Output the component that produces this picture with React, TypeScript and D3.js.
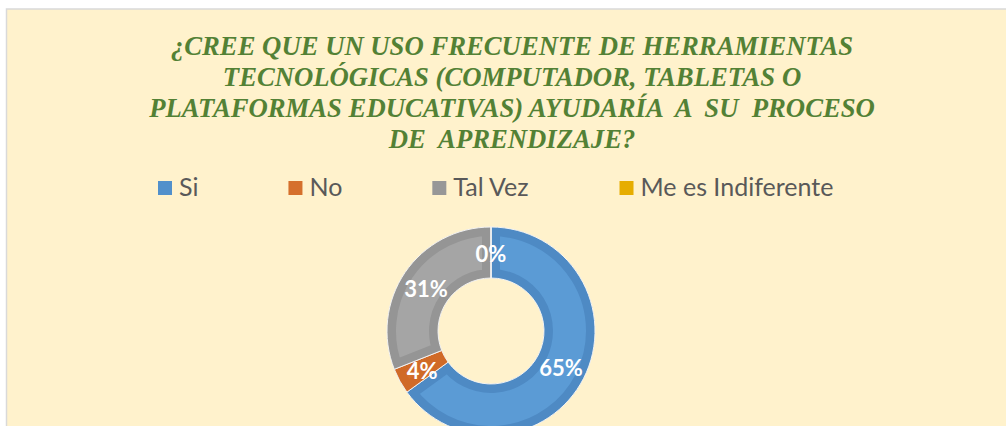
import React, { useMemo } from 'react';
import * as d3 from 'd3';

const categories = ['Si', 'No', 'Tal Vez', 'Me es Indiferente'];
const percents = [65, 4, 31, 0];
const fills = ['#5B9BD5', '#D5702C', '#A5A5A5', '#E6AD00'];
const edges = ['#4E8AC4', '#D06A27', '#959595', '#D9A000'];
const legendSwatch = ['#5190CB', '#D5702C', '#979797', '#E6AD00'];

const titleLines = [
  '¿CREE QUE UN USO FRECUENTE DE HERRAMIENTAS',
  'TECNOLÓGICAS (COMPUTADOR, TABLETAS O',
  'PLATAFORMAS EDUCATIVAS) AYUDARÍA  A  SU  PROCESO',
  'DE  APRENDIZAJE?',
];

const W = 1006;
const H = 426;
const cx = 491;
const cy = 331;
const outerR = 104;
const innerR = 53;
const band = 9;

const legendFont = '25px Lato';

function measure(text: string, font: string) {
  const ctx = document.createElement('canvas').getContext('2d');
  if (!ctx) return text.length * 12;
  ctx.font = font;
  return ctx.measureText(text).width;
}

export default function App() {
  const pie = d3.pie<number>().sort(null).value((d) => d);
  const arcs = pie(percents);
  const arc = d3.arc<d3.PieArcDatum<number>>().innerRadius(innerR).outerRadius(outerR);
  const labelArc = d3.arc<d3.PieArcDatum<number>>()
    .innerRadius((innerR + outerR) / 2)
    .outerRadius((innerR + outerR) / 2);

  // legend: square, small gap, text, then a wide gap to the next entry
  const legend = useMemo(() => {
    let x = 158;
    return categories.map((c) => {
      const w = measure(c, legendFont);
      const item = { x, w };
      x += 14 + 7 + w + 90;
      return item;
    });
  }, []);

  const titleY = d3.scaleLinear().domain([0, 3]).range([55, 148]);

  return (
    <svg width={W} height={H} style={{ position: 'absolute', left: 0, top: 0 }}>
      <rect x={0} y={0} width={W} height={H} fill="#ffffff" />
      <rect x={6.5} y={9} width={W + 10} height={H + 10} fill="#FFF2CC" stroke="#D9D9D9" strokeWidth={1.5} />

      {titleLines.map((t, i) => (
        <text
          key={i}
          x={512}
          y={titleY(i)}
          textAnchor="middle"
          fill="#538135"
          fontFamily="'Liberation Serif', 'Times New Roman', serif"
          fontWeight="bold"
          fontStyle="italic"
          fontSize={26.7}
          style={{ whiteSpace: 'pre' }}
        >
          {t}
        </text>
      ))}

      {categories.map((c, i) => (
        <g key={c} transform={`translate(${legend[i].x},0)`}>
          <rect x={0} y={181} width={14} height={14} fill={legendSwatch[i]} />
          <text x={21} y={196} fill="#595959" fontFamily="Lato, 'Open Sans', sans-serif" fontSize={25}>
            {c}
          </text>
        </g>
      ))}

      <defs>
        {arcs.map((a, i) => (
          <clipPath key={i} id={`clip-${i}`}>
            <path d={arc(a) || ''} />
          </clipPath>
        ))}
      </defs>

      <g transform={`translate(${cx},${cy})`}>
        {arcs.map((a, i) => (
          <g key={i}>
            <path
              d={arc(a) || ''}
              fill={fills[i]}
              stroke={edges[i]}
              strokeWidth={band * 2}
              clipPath={`url(#clip-${i})`}
            />
            <path d={arc(a) || ''} fill="none" stroke="#F2F2F2" strokeWidth={1} />
          </g>
        ))}
        {arcs.map((a, i) => {
          const [lx, ly] = labelArc.centroid(a);
          return (
            <text
              key={`l-${i}`}
              x={lx}
              y={ly + 2}
              dy="0.35em"
              textAnchor="middle"
              fill="#ffffff"
              fontFamily="Lato, sans-serif"
              fontWeight="bold"
              fontSize={22}
            >
              {`${percents[i]}%`}
            </text>
          );
        })}
      </g>
    </svg>
  );
}
